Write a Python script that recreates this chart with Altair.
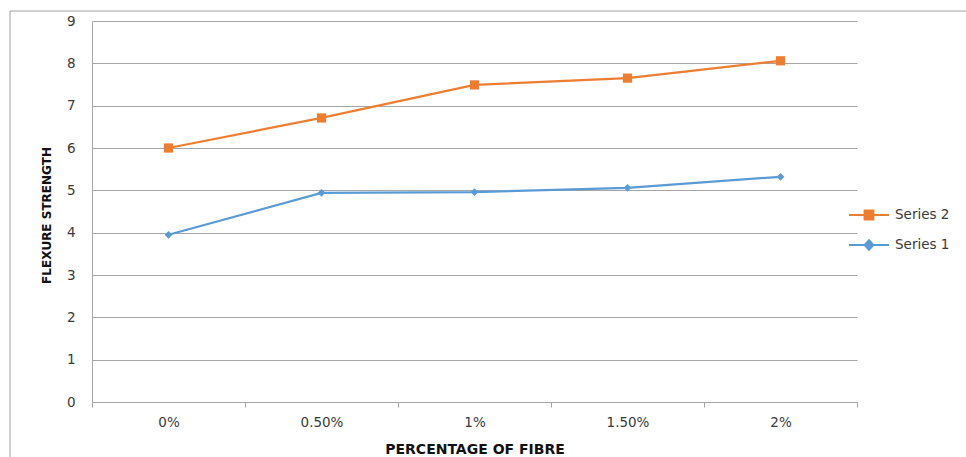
import altair as alt
import pandas as pd

# Flexure strength against fibre content
categories = ["0%", "0.50%", "1%", "1.50%", "2%"]
series_names = ["Series 2", "Series 1"]
series_2 = [6.0, 6.71, 7.49, 7.65, 8.06]
series_1 = [3.95, 4.94, 4.96, 5.06, 5.32]
colors = ["#ED7D31", "#5B9BD5"]

rows = []
for name, values in zip(series_names, [series_2, series_1]):
    for cat, val in zip(categories, values):
        rows.append({"fibre": cat, "series": name, "strength": val})
df = pd.DataFrame(rows)

W, H = 765, 381
FONT = "DejaVu Sans"
GRID = "#a6a6a6"
TEXT = "#3a3a3a"

color_scale = alt.Scale(domain=series_names, range=colors)

# legend symbols: a short line with the series marker on it
legend_paths = [
    "M-1,0H1M-0.22,-0.22H0.22V0.22H-0.22Z",
    "M-1,0H1M0,-0.24L0.22,0L0,0.24L-0.22,0Z",
]

x_enc = alt.X(
    "fibre:N",
    sort=categories,
    scale=alt.Scale(domain=categories, paddingInner=0, paddingOuter=0),
    axis=alt.Axis(
        title="PERCENTAGE OF FIBRE",
        labelAngle=0,
        tickBand="extent",
        ticks=True,
        tickSize=5,
        tickColor=GRID,
        domainColor=GRID,
        grid=False,
        labelPadding=8,
        labelFont=FONT,
        labelFontSize=13.5,
        labelColor=TEXT,
        titleFont=FONT,
        titleFontSize=14,
        titleFontWeight="bold",
        titleColor="#111111",
        titleY=54,
        titleBaseline="bottom",
    ),
)
y_enc = alt.Y(
    "strength:Q",
    scale=alt.Scale(domain=[0, 9], nice=False),
    axis=alt.Axis(
        title="FLEXURE STRENGTH",
        values=list(range(10)),
        ticks=False,
        domainColor=GRID,
        gridColor=GRID,
        labelPadding=17,
        labelFont=FONT,
        labelFontSize=13.5,
        labelColor=TEXT,
        titleFont=FONT,
        titleFontSize=12,
        titleFontWeight="bold",
        titleColor="#111111",
        titleAngle=270,
        titleX=-46,
        titleY=194,
        titleAlign="center",
        titleBaseline="middle",
    ),
)

base = alt.Chart(df).encode(x=x_enc, y=y_enc)

lines = base.mark_line(strokeWidth=2.25).encode(
    color=alt.Color("series:N", scale=color_scale, legend=None)
)
points_2 = base.transform_filter(alt.datum.series == "Series 2").mark_point(
    filled=True, shape="square", size=85, opacity=1
).encode(color=alt.Color("series:N", scale=color_scale, legend=None))
points_1 = base.transform_filter(alt.datum.series == "Series 1").mark_point(
    filled=True, shape="diamond", size=60, opacity=1
).encode(color=alt.Color("series:N", scale=color_scale, legend=None))

legend_layer = base.transform_filter("false").mark_point(
    filled=False, opacity=1, strokeWidth=2
).encode(
    color=alt.Color(
        "series:N",
        scale=color_scale,
        legend=alt.Legend(
            title=None,
            orient="none",
            legendX=756,
            legendY=173,
            padding=0,
            symbolSize=1600,
            symbolStrokeWidth=2,
            labelFont=FONT,
            labelFontSize=13.5,
            labelColor=TEXT,
            labelOffset=5,
            rowPadding=-6,
        ),
    ),
    fill=alt.Fill("series:N", scale=color_scale),
    shape=alt.Shape("series:N", scale=alt.Scale(domain=series_names, range=legend_paths)),
)

# outer chart-area frame
frame_df = pd.DataFrame({"k": [0]})
frame_left = alt.Chart(frame_df).mark_rule(color="#a0a0a0", strokeWidth=1).encode(
    x=alt.value(-82), y=alt.value(-10), y2=alt.value(440)
)
frame_top = alt.Chart(frame_df).mark_rule(color="#a0a0a0", strokeWidth=1).encode(
    x=alt.value(-82), x2=alt.value(900), y=alt.value(-10)
)

chart = (
    alt.layer(legend_layer, frame_left, frame_top, lines, points_2, points_1)
    .properties(
        width=W,
        height=H,
        autosize=alt.AutoSizeParams(type="none"),
        padding={"left": 92, "top": 21, "right": 109, "bottom": 55},
        background="white",
    )
    .configure_view(stroke=None)
)

chart.save("out.html", embed_options={"renderer": "svg", "actions": False})
